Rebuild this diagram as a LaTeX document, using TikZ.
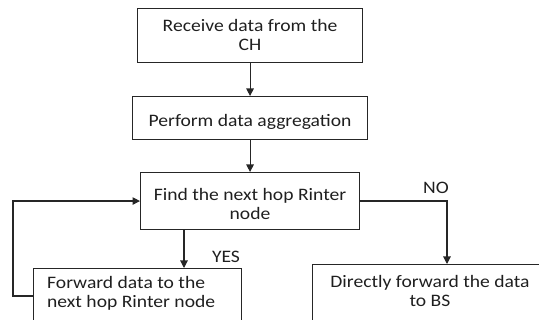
\documentclass[tikz,border=0pt]{standalone}
\usepackage{fontspec}
\setmainfont{Carlito}[FakeStretch=1.12]
\usetikzlibrary{arrows.meta}
\begin{document}
\begin{tikzpicture}[x=1pt,y=-1pt,
  box/.style={draw=black!85, line width=1.1pt, inner sep=0pt, anchor=north west},
  txt/.style={font=\fontsize{17.5}{19.5}\selectfont, text=black!88, align=center, inner sep=0pt},
  arr/.style={draw=black!85, line width=1.1pt, -{Triangle[length=7.5pt,width=7.5pt]}}]
\useasboundingbox (0,0) rectangle (539,320);
\clip (0,0) rectangle (539,320);
\node[box, minimum width=225pt, minimum height=54pt] (b1) at (137,8) {};
\node[txt] (t1) at ([yshift=0.5pt]b1.center) {Receive data from the\\CH};
\node[box, minimum width=235pt, minimum height=43pt] (b2) at (132,96) {};
\node[txt, anchor=center] (t2) at ([yshift=-4pt]b2.center) {Perform data aggregation};
\node[box, minimum width=219pt, minimum height=57pt] (b3) at (140,172) {};
\node[txt] (t3) at ([yshift=-3pt]b3.center) {Find the next hop Rinter\\node};
\node[box, minimum width=208pt, minimum height=70pt] (b4) at (33,268) {};
\node[txt, align=left, anchor=west] (t4) at (47,293.5) {Forward data to the\\next hop Rinter node};
\node[box, minimum width=240pt, minimum height=70pt] (b5) at (312,264) {};
\node[txt] (t5) at (430,291) {Directly forward the data\\to BS};
\coordinate (yx) at (184,0);
\coordinate (nx) at (447,0);
\draw[arr] (b1.south) -- (b2.north);
\draw[arr] (b2.south) -- (b3.north);
\draw[arr] (b3.south -| yx) -- (b4.north -| yx);
\draw[arr] (b3.east) -| (b5.north -| nx);
\draw[arr] (b4.west |- 0,296) -- (13,296) |- (b3.west);
\node[txt] (yes) at (226,257) {YES};
\node[txt] (no) at (436,188) {NO};
\end{tikzpicture}
\end{document}
